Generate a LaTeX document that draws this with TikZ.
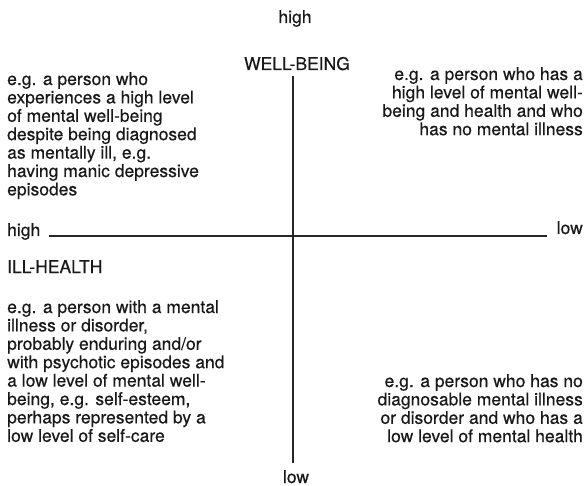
\documentclass[tikz,border=0pt]{standalone}
\usepackage{fontspec}
\setmainfont{TeX Gyre Heros}[UprightFeatures={FakeBold=0.4}]
\begin{document}
\begin{tikzpicture}[x=1pt,y=-1pt,
  txt/.style={inner sep=0pt, text=black!90, font=\fontsize{17.5}{18.4}\selectfont},
  axis/.style={line width=1.1pt, draw=black!85}]
\useasboundingbox (0,0) rectangle (586,486);
% axis labels
\node[txt, anchor=base] (tophigh) at (295,23) {high};
\node[txt, anchor=base] (wb) at (297,70) {WELL-BEING};
\node[txt, anchor=base] (botlow) at (296,483) {low};
\node[txt, anchor=base west] (lefthigh) at (7,236) {high};
\node[txt, anchor=base east] (rightlow) at (583,234) {low};
\node[txt, anchor=base west] (ill) at (7,273) {ILL-HEALTH};
% axes
\coordinate (vtop) at (293,76);
\coordinate (vbot) at (293,463);
\coordinate (hleft) at (49,236);
\coordinate (hright) at (547,236);
\draw[axis] (vtop) -- (vbot);
\draw[axis] (hleft) -- (hright);
% quadrant texts
\node[txt, anchor=base west] (tl) at (7,85) {\begin{tabular}[t]{@{}l@{}}
e.g. a person who\\
experiences a high level\\
of mental well-being\\
despite being diagnosed\\
as mentally ill, e.g.\\
having manic depressive\\
episodes\end{tabular}};
\node[txt, anchor=base east] (tr) at (583,80) {\begin{tabular}[t]{@{}r@{}}
e.g. a person who has a\\
high level of mental well-\\
being and health and who\\
has no mental illness\end{tabular}};
\node[txt, anchor=base west] (bl) at (7,313) {\begin{tabular}[t]{@{}l@{}}
e.g. a person with a mental\\
illness or disorder,\\
probably enduring and/or\\
with psychotic episodes and\\
a low level of mental well-\\
being, e.g. self-esteem,\\
perhaps represented by a\\
low level of self-care\end{tabular}};
\node[txt, anchor=base east] (br) at (583,387) {\begin{tabular}[t]{@{}r@{}}
e.g. a person who has no\\
diagnosable mental illness\\
or disorder and who has a\\
low level of mental health\end{tabular}};
\end{tikzpicture}
\end{document}
